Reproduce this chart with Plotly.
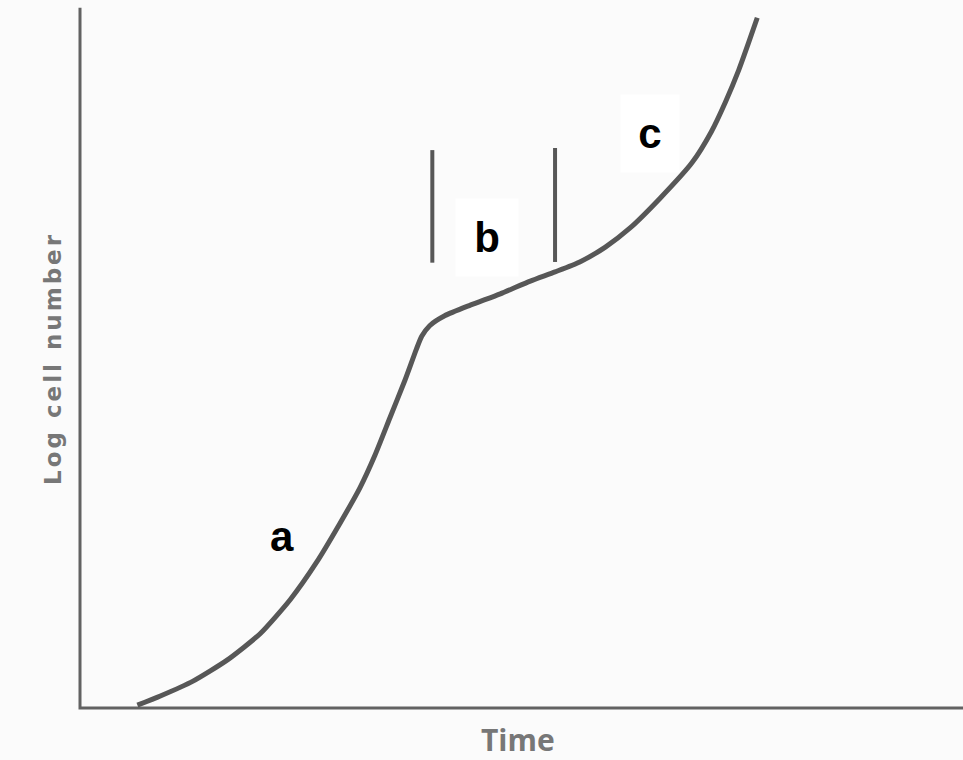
import plotly.graph_objects as go

# Growth curve (time and log cell number in arbitrary units 0-10)
time = [0.65, 0.91, 1.28, 1.67, 2.04, 2.38, 2.68, 2.94, 3.17, 3.34, 3.51, 3.68, 3.81,
        3.87, 3.96, 4.13, 4.42, 4.76, 5.10, 5.38, 5.66, 5.95, 6.23, 6.57, 6.93, 7.15,
        7.31, 7.46, 7.57, 7.67]
log_cells = [0.04, 0.17, 0.38, 0.68, 1.05, 1.53, 2.06, 2.60, 3.11, 3.57, 4.10, 4.63, 5.07,
             5.25, 5.40, 5.54, 5.69, 5.85, 6.03, 6.16, 6.30, 6.51, 6.78, 7.20, 7.70, 8.14,
             8.56, 9.01, 9.39, 9.75]

# Phase b boundaries (vertical bars)
phase_b_x = [3.99, 5.38]
phase_b_y_low = [6.29, 6.30]
phase_b_y_high = [7.88, 7.91]

# Phase labels
label_text = ["a", "b", "c"]
label_x = [2.29, 4.61, 6.46]
label_y = [2.42, 6.64, 8.12]
label_box = [False, True, True]
label_box_w = [0, 62, 58]

x_title = "Time"
y_title = "Log cell number"

CURVE = "#575757"
AXIS = "#626262"
TXT = "#777777"

fig = go.Figure()

# axes drawn as lines
fig.add_trace(go.Scatter(x=[0, 0, 10.5], y=[9.89, 0, 0], mode="lines",
                         line=dict(color=AXIS, width=3), hoverinfo="skip"))

fig.add_trace(go.Scatter(x=time, y=log_cells, mode="lines",
                         line=dict(color=CURVE, width=5, shape="spline", smoothing=0.6),
                         hoverinfo="skip"))

for xb, y0, y1 in zip(phase_b_x, phase_b_y_low, phase_b_y_high):
    fig.add_trace(go.Scatter(x=[xb, xb], y=[y0, y1], mode="lines",
                             line=dict(color=CURVE, width=4), hoverinfo="skip"))

for t, x, y, box, bw in zip(label_text, label_x, label_y, label_box, label_box_w):
    fig.add_annotation(x=x, y=y, text="<b>" + t + "</b>", showarrow=False,
                       font=dict(family="Liberation Sans", size=42, color="black"),
                       bgcolor="white" if box else "rgba(0,0,0,0)",
                       width=bw if box else None, height=77 if box else None,
                       borderpad=0)

fig.add_annotation(xref="paper", yref="paper", x=(518 - 60) / 903, y=-(740 - 720) / 720,
                   text="<b>" + x_title + "</b>", showarrow=False,
                   font=dict(family="Open Sans", size=30, color=TXT), yanchor="middle")

fig.add_annotation(xref="paper", yref="paper", x=(38 - 60) / 903, y=(720 - 359) / 720,
                   text="<b><span style='letter-spacing:3px'>" + y_title + "</span></b>",
                   showarrow=False, textangle=-90,
                   font=dict(family="DejaVu Sans", size=23, color=TXT))

fig.update_layout(
    width=963, height=760,
    margin=dict(l=60, r=0, t=0, b=40),
    paper_bgcolor="#fbfbfb", plot_bgcolor="#fbfbfb",
    showlegend=False,
    xaxis=dict(range=[-0.2265, 10], visible=False, fixedrange=True),
    yaxis=dict(range=[-0.169, 10], visible=False, fixedrange=True),
)

fig.write_html("out.html", config={"displayModeBar": False},
               post_script="document.body.style.margin='0';document.body.style.overflow='hidden';")
